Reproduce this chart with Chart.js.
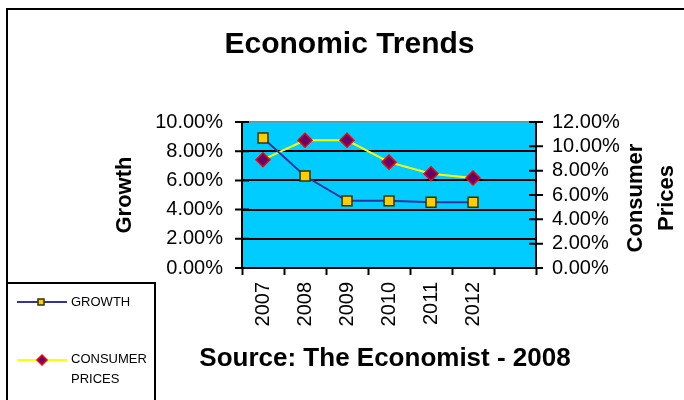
<!DOCTYPE html>
<html>
<head>
<meta charset="utf-8">
<script src="https://cdn.jsdelivr.net/npm/chart.js@4/dist/chart.umd.min.js"></script>
<style>
body { margin: 0; background: #fff; }
</style>
</head>
<body>
<canvas id="myChart" width="684" height="400"></canvas>
<script>

const years = ['2007', '2008', '2009', '2010', '2011', '2012', ''];
const growth = [8.9, 6.3, 4.6, 4.6, 4.5, 4.5, null];
const consumerPrices = [8.9, 10.5, 10.5, 8.7, 7.75, 7.4, null];

const growthTicks = ['0.00%', '2.00%', '4.00%', '6.00%', '8.00%', '10.00%'];
const priceTicks = ['0.00%', '2.00%', '4.00%', '6.00%', '8.00%', '10.00%', '12.00%'];

const FONT = "'Liberation Sans', Arial, sans-serif";
Chart.defaults.font.family = FONT;
Chart.defaults.color = '#000';

// plot background + white page
const background = {
    id: 'background',
    beforeDraw(chart) {
        const { ctx, chartArea: a } = chart;
        ctx.save();
        ctx.fillStyle = '#fff';
        ctx.fillRect(0, 0, chart.width, chart.height);
        ctx.fillStyle = '#00CCFF';
        ctx.fillRect(a.left, a.top, a.right - a.left, a.bottom - a.top);
        ctx.restore();
    }
};

// frame, crossing ticks, axis titles and the boxed legend
const extras = {
    id: 'extras',
    afterDraw(chart) {
        const { ctx } = chart;
        ctx.save();
        ctx.strokeStyle = '#000';
        ctx.lineWidth = 2;

        // outer frame
        ctx.beginPath();
        ctx.moveTo(7, 400);
        ctx.lineTo(7, 9);
        ctx.lineTo(684, 9);
        ctx.stroke();

        // tick marks crossing both value axes
        ['y', 'y1'].forEach(id => {
            const s = chart.scales[id];
            const x = id === 'y' ? s.right : s.left;
            ctx.beginPath();
            s.ticks.forEach((t, i) => {
                const py = s.getPixelForTick(i);
                ctx.moveTo(x - 7, py);
                ctx.lineTo(x + 7, py);
            });
            ctx.stroke();
        });

        ctx.fillStyle = '#000';
        ctx.textAlign = 'center';
        ctx.textBaseline = 'middle';

        // source line under the years (wider than the plot, so drawn here)
        ctx.font = 'bold 26px ' + FONT;
        ctx.fillText('Source: The Economist - 2008', 385, 359);

        // right axis title, two lines read bottom to top
        ctx.font = 'bold 22px ' + FONT;
        ['Consumer', 'Prices'].forEach((t, i) => {
            ctx.save();
            ctx.translate(636 + i * 31, 198);
            ctx.rotate(-Math.PI / 2);
            ctx.fillText(t, 0, 0);
            ctx.restore();
        });

        // legend box
        ctx.beginPath();
        ctx.moveTo(7, 283);
        ctx.lineTo(155, 283);
        ctx.lineTo(155, 400);
        ctx.stroke();

        const ds = chart.data.datasets;
        const rows = [302, 360];
        ds.forEach((d, i) => {
            const y = rows[i];
            ctx.strokeStyle = d.borderColor;
            ctx.lineWidth = 2;
            ctx.beginPath();
            ctx.moveTo(17, y);
            ctx.lineTo(67, y);
            ctx.stroke();
            ctx.fillStyle = d.pointBackgroundColor;
            ctx.strokeStyle = d.pointBorderColor;
            ctx.lineWidth = 1.5;
            ctx.beginPath();
            if (d.pointStyle === 'rect') {
                ctx.rect(38, y - 3, 6, 6);
            } else {
                ctx.moveTo(42, y - 5);
                ctx.lineTo(47, y);
                ctx.lineTo(42, y + 5);
                ctx.lineTo(37, y);
                ctx.closePath();
            }
            ctx.fill();
            ctx.stroke();
        });
        ctx.fillStyle = '#000';
        ctx.font = '13px ' + FONT;
        ctx.textAlign = 'left';
        ctx.fillText('GROWTH', 71, 302);
        ctx.fillText('CONSUMER', 71, 359);
        ctx.fillText('PRICES', 71, 379);

        ctx.restore();
    }
};

const data = {
    labels: years,
    datasets: [{
        label: 'GROWTH',
        data: growth,
        yAxisID: 'y',
        borderColor: '#333399',
        borderWidth: 2,
        pointStyle: 'rect',
        pointRadius: 7,
        pointHoverRadius: 7,
        pointBackgroundColor: '#FFCC00',
        pointBorderColor: '#333300',
        pointBorderWidth: 1.5,
        tension: 0
    }, {
        label: 'CONSUMER PRICES',
        data: consumerPrices,
        yAxisID: 'y1',
        borderColor: '#FFFF00',
        borderWidth: 2,
        pointStyle: 'rectRot',
        pointRadius: 7,
        pointHoverRadius: 7,
        pointBackgroundColor: '#660066',
        pointBorderColor: '#FF0000',
        pointBorderWidth: 1.5,
        tension: 0
    }]
};

const config = {
    type: 'line',
    data: data,
    plugins: [background, extras],
    options: {
        responsive: false,
        animation: false,
        layout: { padding: { left: 15, right: 0, top: 0, bottom: 0 } },
        plugins: {
            legend: { display: false },
            tooltip: { enabled: false },
            title: {
                display: true,
                text: 'Economic Trends',
                color: '#000',
                font: { size: 30, weight: 'bold' },
                padding: { top: 27, bottom: 59 }
            }
        },
        scales: {
            x: {
                offset: true,
                afterFit: s => { s.height = 132; },
                grid: {
                    offset: true,
                    drawOnChartArea: false,
                    tickLength: 7,
                    tickColor: '#000',
                    tickWidth: 2
                },
                border: { color: '#000', width: 2 },
                ticks: {
                    font: { size: 20 },
                    minRotation: 90,
                    maxRotation: 90,
                    padding: 7,
                    autoSkip: false
                }
            },
            y: {
                position: 'left',
                min: 0,
                max: 10,
                afterFit: s => { s.width = 227; },
                grid: {
                    drawTicks: false,
                    color: ctx => ctx.tick && ctx.tick.value === 10 ? '#888' : '#000',
                    lineWidth: ctx => ctx.tick && ctx.tick.value === 10 ? 1.5 : 2
                },
                border: { color: '#000', width: 2 },
                ticks: {
                    stepSize: 2,
                    padding: 19,
                    autoSkip: false,
                    font: { size: 20 },
                    callback: (v, i) => growthTicks[i]
                },
                title: {
                    display: true,
                    text: 'Growth',
                    font: { size: 22, weight: 'bold' },
                    padding: { top: 97, bottom: 0 }
                }
            },
            y1: {
                position: 'right',
                min: 0,
                max: 12,
                afterFit: s => { s.width = 148; },
                grid: { drawOnChartArea: false, drawTicks: false },
                border: { color: '#000', width: 2 },
                ticks: {
                    stepSize: 2,
                    padding: 16,
                    autoSkip: false,
                    font: { size: 20 },
                    callback: (v, i) => priceTicks[i]
                }
            }
        }
    }
};

const myChart = new Chart(
    document.getElementById('myChart'),
    config
);
</script>
</body>
</html>
